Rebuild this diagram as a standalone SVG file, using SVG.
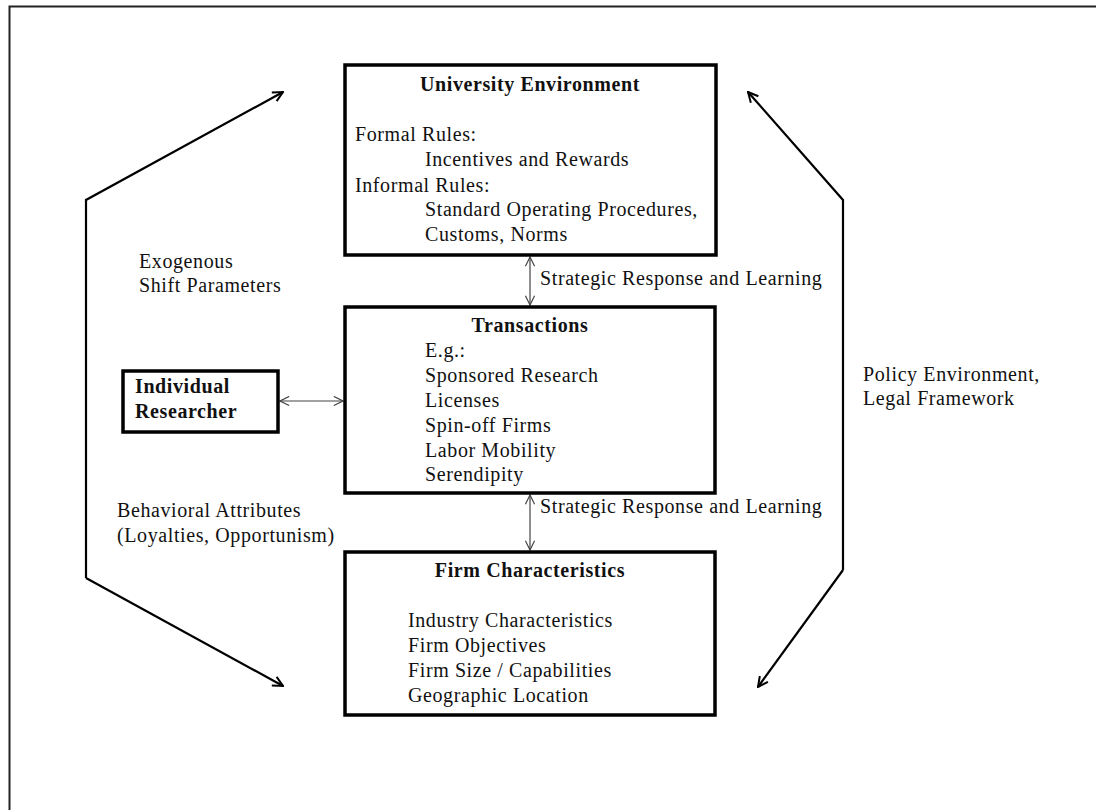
<svg xmlns="http://www.w3.org/2000/svg" width="1096" height="810" viewBox="0 0 1096 810">
<style>
text { font-family: "Liberation Serif", "Times New Roman", serif; font-size: 20px; fill: #111; letter-spacing: 0.6px; }
.b { font-weight: bold; }
.box { fill: #fff; stroke: #000; stroke-width: 3.5; }
.big { fill: none; stroke: #000; stroke-width: 2.2; stroke-linejoin: miter; }
.thin { fill: none; stroke: #444; stroke-width: 1.2; }
</style>
<defs>
<marker id="ah" viewBox="0 0 12 12" refX="11" refY="6" markerWidth="12" markerHeight="12" markerUnits="userSpaceOnUse" orient="auto-start-reverse">
<path d="M1,1 L11,6 L1,11" fill="none" stroke="#000" stroke-width="2"/>
</marker>
<marker id="as" viewBox="0 0 12 12" refX="11" refY="6" markerWidth="11" markerHeight="11" markerUnits="userSpaceOnUse" orient="auto-start-reverse">
<path d="M1,1 L11,6 L1,11" fill="none" stroke="#444" stroke-width="1.3"/>
</marker>
</defs>
<rect x="0" y="0" width="1096" height="810" fill="#fff"/>
<rect x="9.5" y="6.5" width="1100" height="820" fill="none" stroke="#222" stroke-width="2"/>

<g id="connectors">
<polyline class="big" points="86,578 86,200 283,92" marker-end="url(#ah)"/>
<line class="big" x1="86" y1="578" x2="283" y2="686" marker-end="url(#ah)"/>
<polyline class="big" points="843,570 843,200 748,92" marker-end="url(#ah)"/>
<line class="big" x1="843" y1="570" x2="758" y2="687" marker-end="url(#ah)"/>
<line class="thin" x1="530" y1="257" x2="530" y2="305" marker-start="url(#as)" marker-end="url(#as)"/>
<line class="thin" x1="530" y1="495" x2="530" y2="550" marker-start="url(#as)" marker-end="url(#as)"/>
<line class="thin" x1="280" y1="401" x2="343" y2="401" marker-start="url(#as)" marker-end="url(#as)"/>
<text x="540" y="285">Strategic Response and Learning</text>
<text x="540" y="513">Strategic Response and Learning</text>
</g>

<g id="labels">
<text x="139" y="268">Exogenous</text>
<text x="139" y="292">Shift Parameters</text>
<text x="117" y="517">Behavioral Attributes</text>
<text x="117" y="542">(Loyalties, Opportunism)</text>
<text x="863" y="381">Policy Environment,</text>
<text x="863" y="405">Legal Framework</text>
</g>

<g id="university">
<rect class="box" x="345" y="65" width="371" height="190"/>
<text class="b" x="530" y="91" text-anchor="middle">University Environment</text>
<text x="355" y="141">Formal Rules:</text>
<text x="425" y="166">Incentives and Rewards</text>
<text x="355" y="192">Informal Rules:</text>
<text x="425" y="216">Standard Operating Procedures,</text>
<text x="425" y="241">Customs, Norms</text>
</g>

<g id="transactions">
<rect class="box" x="345" y="307" width="370" height="186"/>
<text class="b" x="530" y="332" text-anchor="middle">Transactions</text>
<text x="425" y="357">E.g.:</text>
<text x="425" y="382">Sponsored Research</text>
<text x="425" y="407">Licenses</text>
<text x="425" y="432">Spin-off Firms</text>
<text x="425" y="457">Labor Mobility</text>
<text x="425" y="481">Serendipity</text>
</g>

<g id="researcher">
<rect class="box" x="123" y="371" width="155" height="61"/>
<text class="b" x="135" y="393">Individual</text>
<text class="b" x="135" y="418">Researcher</text>
</g>

<g id="firm">
<rect class="box" x="345" y="552" width="370" height="163"/>
<text class="b" x="530" y="577" text-anchor="middle">Firm Characteristics</text>
<text x="408" y="627">Industry Characteristics</text>
<text x="408" y="652">Firm Objectives</text>
<text x="408" y="677">Firm Size / Capabilities</text>
<text x="408" y="702">Geographic Location</text>
</g>
</svg>
